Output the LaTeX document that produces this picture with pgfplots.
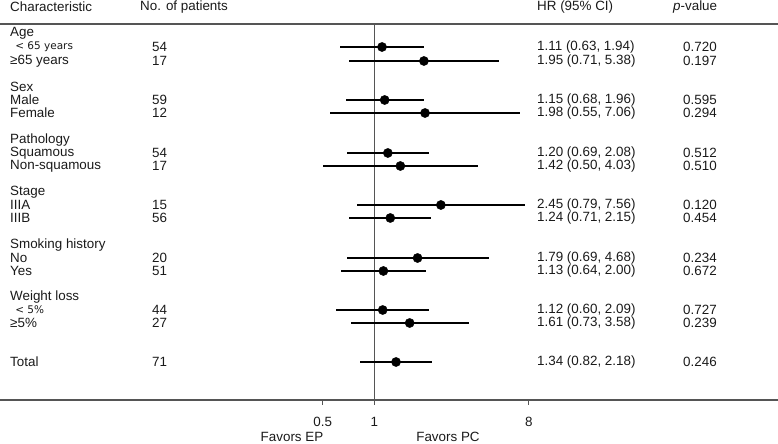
\documentclass[border=0pt]{standalone}
\usepackage{pgfplots}
\pgfplotsset{compat=1.18}
\usepackage{pgfplotstable}
\usepackage{fontspec}
\setmainfont{Liberation Sans}
\newfontfamily\narrowfont{DejaVu Sans}

% y = picture row (bp from bottom), hazard ratio and 95% CI
\pgfplotstableread{
y   hr   lo   hi
397 1.11 0.63 1.94
383 1.95 0.71 5.38
344 1.15 0.68 1.96
331 1.98 0.55 7.06
291 1.20 0.69 2.08
278 1.42 0.50 4.03
239 2.45 0.79 7.56
226 1.24 0.71 2.15
186 1.79 0.69 4.68
173 1.13 0.64 2.00
134 1.12 0.60 2.09
121 1.61 0.73 3.58
82  1.34 0.82 2.18
}\foresttab

\definecolor{rule}{HTML}{555555}
\definecolor{txt}{HTML}{1A1A1A}

% one table row: y, label, n, HR text, p
\newcommand\row[5]{%
  \node[anchor=west] at (10,#1) {#2};
  \node[anchor=west] at (152,#1) {#3};
  \node[anchor=west] at (537,#1) {#4};
  \node[anchor=west] at (683,#1) {#5};}
\newcommand\grp[2]{\node[anchor=west] at (10,#1) {#2};}

\begin{document}
\begin{tikzpicture}[x=1bp,y=1bp,
  every node/.style={font=\fontsize{13.4bp}{15bp}\selectfont, text=txt, inner sep=0pt}]
\useasboundingbox (0,0) rectangle (778,444);
\begin{axis}[
  at={(0,44bp)}, anchor=south west,
  scale only axis, width=778bp, height=376bp,
  xmode=log, log basis x=2,
  xmin=0.006489, xmax=228.95,
  ymin=44, ymax=420,
  axis x line=bottom, axis y line=none,
  axis line style={rule, line width=1.6bp, -},
  xtick={0.5,1,8}, xticklabels={0.5,1,8},
  minor xtick={},
  tick align=outside, major tick length=5bp,
  tick style={rule, line width=1.2bp},
  xticklabel style={font=\fontsize{13.4bp}{15bp}\selectfont, text=txt, yshift=-12bp},
  clip=false,
]
\draw[rule, line width=1.6bp] (rel axis cs:0,1) -- (rel axis cs:1,1);
\addplot[rule, line width=1.1bp] coordinates {(1,44) (1,420)};
\addplot[black, only marks, mark=*, mark size=4.6bp,
  error bars/.cd, x dir=both, x explicit,
  error bar style={line width=1.4bp, black}, error mark=none]
  table[x=hr, y=y,
    x error plus expr=\thisrow{hi}-\thisrow{hr},
    x error minus expr=\thisrow{hr}-\thisrow{lo}] {\foresttab};
\end{axis}

% header
\node[anchor=west] at (10,437) {Characteristic};
\node[anchor=west] at (140,437) {No. of patients};
\node[anchor=west] at (537,437) {HR (95\% CI)};
\node[anchor=west] at (673,437) {\textit{p}-value};

\grp{411}{Age}
\row{397}{{\narrowfont\fontsize{10.5bp}{12bp}\selectfont\ \,< 65 years}}{54}{1.11 (0.63, 1.94)}{0.720}
\row{383}{≥65 years}{17}{1.95 (0.71, 5.38)}{0.197}
\grp{357}{Sex}
\row{344}{Male}{59}{1.15 (0.68, 1.96)}{0.595}
\row{331}{Female}{12}{1.98 (0.55, 7.06)}{0.294}
\grp{304}{Pathology}
\row{291}{Squamous}{54}{1.20 (0.69, 2.08)}{0.512}
\row{278}{Non-squamous}{17}{1.42 (0.50, 4.03)}{0.510}
\grp{252}{Stage}
\row{239}{IIIA}{15}{2.45 (0.79, 7.56)}{0.120}
\row{226}{IIIB}{56}{1.24 (0.71, 2.15)}{0.454}
\grp{199}{Smoking history}
\row{186}{No}{20}{1.79 (0.69, 4.68)}{0.234}
\row{173}{Yes}{51}{1.13 (0.64, 2.00)}{0.672}
\grp{147}{Weight loss}
\row{134}{{\narrowfont\fontsize{10.5bp}{12bp}\selectfont\ \,< 5\%}}{44}{1.12 (0.60, 2.09)}{0.727}
\row{121}{≥5\%}{27}{1.61 (0.73, 3.58)}{0.239}
\row{82}{Total}{71}{1.34 (0.82, 2.18)}{0.246}

\node at (292,7) {Favors EP};
\node at (448,7) {Favors PC};
\end{tikzpicture}
\end{document}
